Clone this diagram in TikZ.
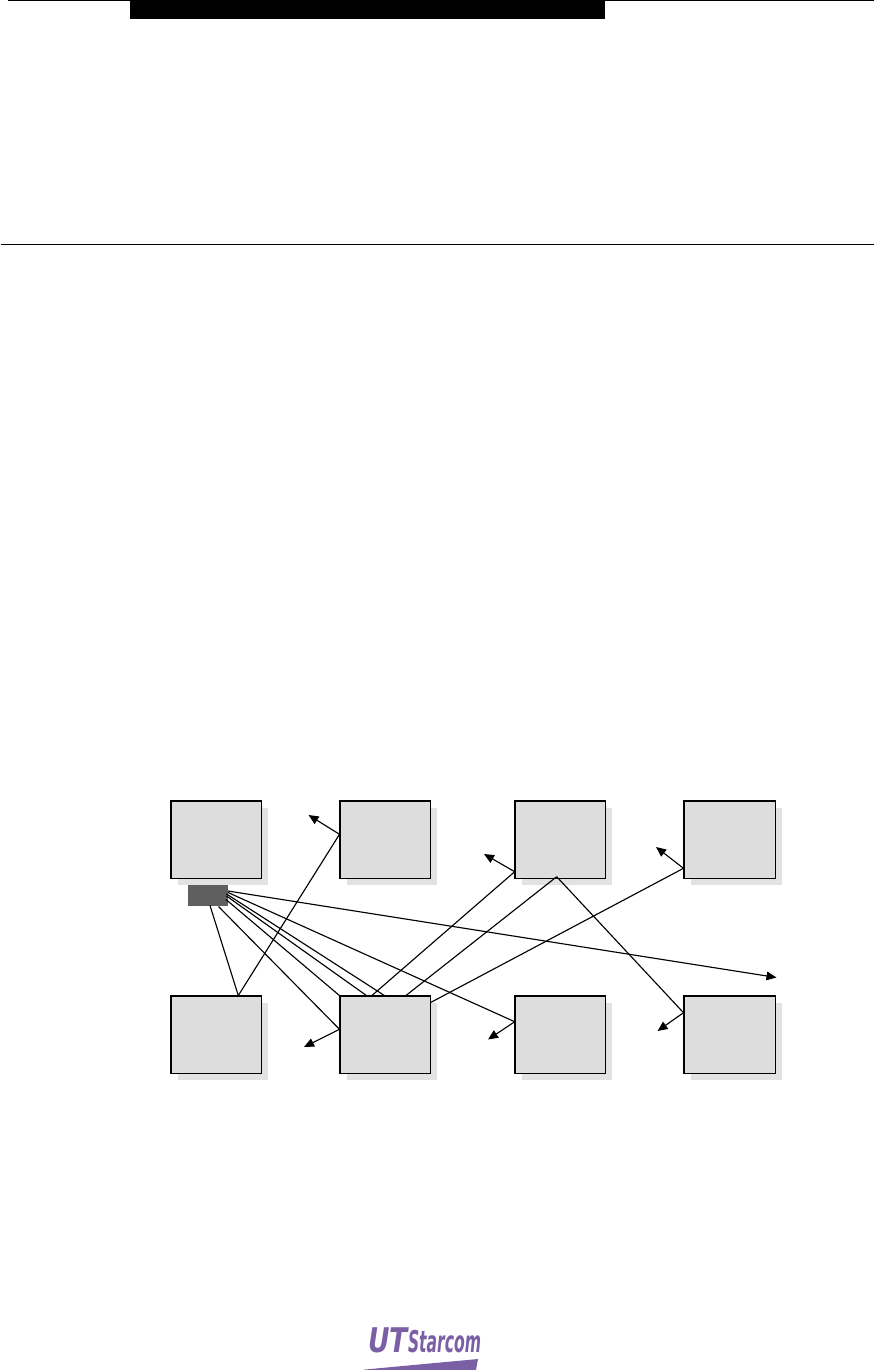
\documentclass[tikz,border=0pt]{standalone}
\usepackage{fontspec}
\setmainfont{Liberation Sans}
\newfontfamily\logoface{DejaVu Sans}
\usetikzlibrary{arrows.meta}
\definecolor{boxfill}{HTML}{DDDDDD}
\definecolor{boxshadow}{HTML}{E2E2E2}
\definecolor{tagfill}{HTML}{5F5F5F}
\definecolor{logopurple}{HTML}{7B5FA5}
\tikzset{
  x=0.75pt,y=-0.75pt,
  panel/.style={draw=black,line width=1.25pt,fill=boxfill,minimum width=67.9pt,minimum height=58.2pt,inner sep=0pt,outer sep=0pt,anchor=north west},
  panelshade/.style={fill=boxshadow,draw=none,minimum width=68pt,minimum height=58pt,inner sep=0pt,anchor=north west},
  wire/.style={draw=black,line width=0.85pt},
  arrowwire/.style={wire,-{Triangle[length=7.5pt,width=6.5pt]}},
  rule/.style={draw=black,line width=0.75pt},
  logotext/.style={text=logopurple,inner sep=0pt,outer sep=0pt,anchor=base west}
}
\begin{document}
\begin{tikzpicture}
\useasboundingbox (0,0) rectangle (874,1370);
\fill[white] (0,0) rectangle (874,1370);
% header
\coordinate (tl) at (8,0.8);
\coordinate (tr) at (874,0.8);
\coordinate (ml) at (0.5,244.5);
\coordinate (mr) at (874,244.5);
\draw[rule] (tl) -- (tr);
\draw[rule] (ml) -- (mr);
\node[fill=black,minimum width=356.25pt,minimum height=14.25pt,inner sep=0pt,anchor=north west] (bar) at (130,0) {};
% shadows
\foreach \n/\x/\y in {a/171/801,b/340/801,c/515/801,e/171/996,f/340/996,g/515/996}{
  \node[panelshade] (s\n) at (\x+6.5,\y+6.5) {};
}
\foreach \n/\x/\y in {d/684/801,h/684/996}{
  \node[panelshade,minimum width=68.5pt] (s\n) at (\x+6.5,\y+6.5) {};
}
% panels
\node[panel] (a) at (171,801) {};
\node[panel] (b) at (340,801) {};
\node[panel] (c) at (515,801) {};
\node[panel,minimum width=68.6pt] (d) at (684,801) {};
\node[panel] (e) at (171,996) {};
\node[panel] (f) at (340,996) {};
\node[panel] (g) at (515,996) {};
\node[panel,minimum width=68.6pt] (h) at (684,996) {};
\node[fill=tagfill,minimum width=30pt,minimum height=15.75pt,inner sep=0pt,anchor=north west] (tag) at (188,885.2) {};
% joints and free ends
\coordinate (e1) at (238.3,995.5);
\coordinate (b1) at (339.5,834.3);
\coordinate (bt) at (308.5,815);
\coordinate (f1) at (339.5,1029.3);
\coordinate (ft) at (304,1047);
\coordinate (c1) at (514.7,871.7);
\coordinate (ct) at (484,854);
\coordinate (c2) at (556.7,876.7);
\coordinate (d1) at (683.5,868.3);
\coordinate (dt) at (656,847);
\coordinate (g1) at (514.7,1021.7);
\coordinate (gt) at (488,1039.5);
\coordinate (h1) at (683.5,1012.7);
\coordinate (ht) at (657.5,1031);
\coordinate (xt) at (776.5,977.5);
\coordinate (fa) at (371.7,995.7);
\coordinate (fb) at (405.7,995.7);
\coordinate (fc) at (431,1002.3);
\coordinate (fd) at (384.7,995.7);
\coordinate (fe) at (366.7,995.7);
\coordinate (ff) at (340,996);
\coordinate (t1) at (228,891);
\coordinate (t2) at (228,892.5);
\coordinate (t3) at (226.5,894);
\coordinate (t4) at (226.5,896);
\coordinate (t5) at (226,899.5);
\coordinate (t6) at (218.5,906.5);
\coordinate (t7) at (210,905.5);
% wires from the tag
\draw[arrowwire] (t1) -- (xt);
\draw[wire] (t2) -- (g1);
\draw[wire] (t3) -- (fd);
\draw[wire] (t4) -- (fe);
\draw[wire] (t5) -- (ff);
\draw[wire] (t6) -- (f1);
\draw[wire] (t7) -- (e1);
% onward wires
\draw[wire] (e1) -- (b1);
\draw[wire] (fa) -- (c1);
\draw[wire] (fb) -- (c2);
\draw[wire] (c2) -- (h1);
\draw[wire] (fc) -- (d1);
% arrows
\draw[arrowwire] (b1) -- (bt);
\draw[arrowwire] (f1) -- (ft);
\draw[arrowwire] (c1) -- (ct);
\draw[arrowwire] (d1) -- (dt);
\draw[arrowwire] (g1) -- (gt);
\draw[arrowwire] (h1) -- (ht);
% logo
\node[logotext,font=\logoface\fontsize{25.5pt}{26pt}\selectfont\bfseries\itshape,xscale=0.78] (ut) at (368,1352) {UT};
\node[logotext,font=\logoface\fontsize{22.5pt}{23pt}\selectfont\bfseries\itshape,xscale=0.52] (star) at (408,1352) {Starcom};
\fill[logopurple] (364,1369.6) -- (478,1359) -- (476,1370) -- (364,1370) -- cycle;
\end{tikzpicture}
\end{document}
